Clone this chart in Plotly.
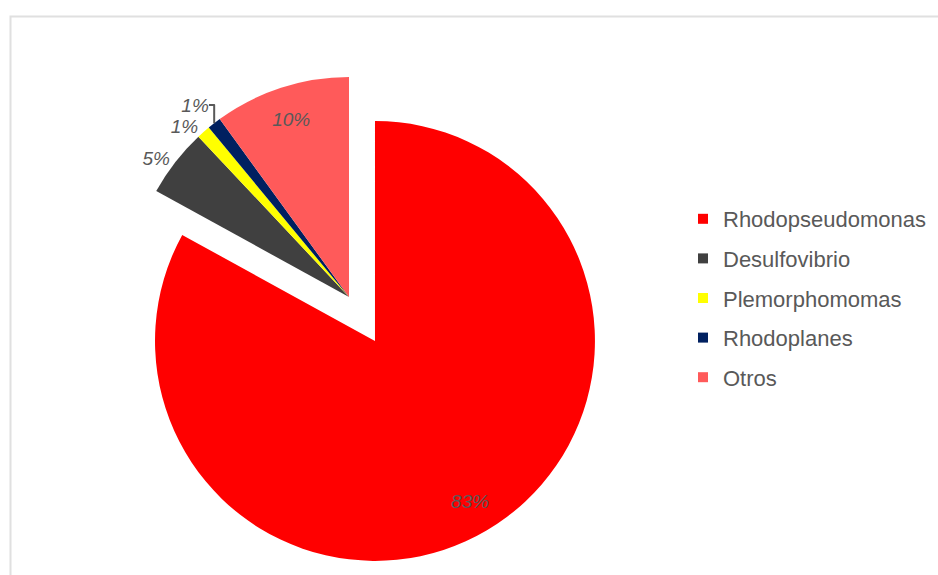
import plotly.graph_objects as go

# Genus composition of the community (percent of reads)
generos = ["Rhodopseudomonas", "Desulfovibrio", "Plemorphomomas", "Rhodoplanes", "Otros"]
porcentajes = [83, 5, 1, 1, 10]
colores = ["#FF0000", "#404040", "#FFFF00", "#002060", "#FF5A5A"]
separacion = [0.232, 0, 0, 0, 0]
# which slices carry their percentage outside the pie, which near the rim
etiqueta_fuera = ["none", "outside", "outside", "outside", "none"]
etiqueta_dentro = ["inside", "none", "none", "none", "inside"]

W, H = 938, 575
TEXT_GRAY = "#595959"
FONT = "Liberation Sans, Arial, sans-serif"
dominio = dict(x=[78 / W, 620 / W], y=[1 - 568 / H, 1 - 26 / H])
fuente_pct = dict(family=FONT, size=19, color=TEXT_GRAY, style="italic")

fig = go.Figure()

# Solid pie with the outside percentage labels
fig.add_trace(go.Pie(
    labels=generos,
    values=porcentajes,
    sort=False,
    direction="clockwise",
    rotation=0,
    pull=separacion,
    marker=dict(colors=colores, line=dict(width=0)),
    texttemplate="%{percent:.0%}",
    textposition=etiqueta_fuera,
    textfont=fuente_pct,
    showlegend=False,
    hoverinfo="label+percent",
    domain=dominio,
))

# Transparent ring on top: places the inside labels near the rim
fig.add_trace(go.Pie(
    labels=generos,
    values=porcentajes,
    sort=False,
    direction="clockwise",
    rotation=0,
    pull=separacion,
    hole=0.7,
    marker=dict(colors=["rgba(0,0,0,0)"] * len(generos), line=dict(width=0)),
    texttemplate="%{percent:.0%}",
    textposition=etiqueta_dentro,
    insidetextorientation="horizontal",
    textfont=fuente_pct,
    showlegend=False,
    hoverinfo="skip",
    domain=dominio,
))

# Legend entries: one square marker per genus
for nombre, color in zip(generos, colores):
    fig.add_trace(go.Scatter(
        x=[None], y=[None], mode="markers", name=nombre,
        marker=dict(symbol="square", size=10, color=color),
        legendgroup=nombre, showlegend=True,
    ))

fig.update_layout(
    width=W, height=H,
    margin=dict(l=0, r=0, t=0, b=0, pad=0, autoexpand=False),
    paper_bgcolor="white",
    plot_bgcolor="white",
    xaxis=dict(visible=False),
    yaxis=dict(visible=False),
    showlegend=True,
    legend=dict(
        x=683 / W, y=1 - 298 / H, xanchor="left", yanchor="middle",
        font=dict(family=FONT, size=22, color=TEXT_GRAY),
        tracegroupgap=8,
        bgcolor="rgba(0,0,0,0)",
    ),
    shapes=[dict(
        type="rect", xref="paper", yref="paper",
        x0=10.5 / W, x1=1.05, y0=-0.05, y1=1 - 16.5 / H,
        line=dict(color="#E0E0E0", width=2), layer="below",
    )],
)

fig.write_html("out.html")
